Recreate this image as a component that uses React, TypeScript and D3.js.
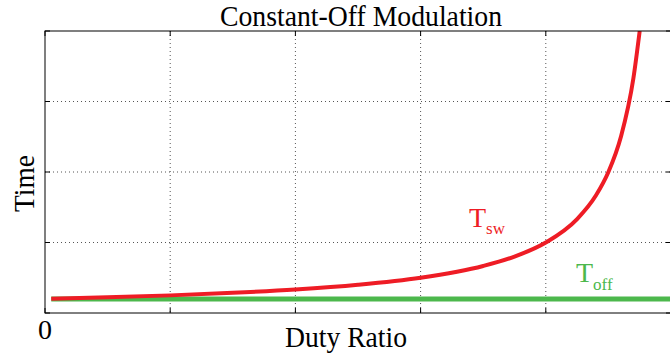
import React from "react";
import * as d3 from "d3";

// Duty ratio samples and the switching period
const dutyRatio = [0.01, 0.1, 0.2, 0.3, 0.4, 0.5, 0.6, 0.7, 0.75, 0.8, 0.85, 0.88, 0.9, 0.92, 0.94, 0.95];
const tSwitch = [0.202, 0.222, 0.25, 0.286, 0.333, 0.4, 0.5, 0.667, 0.8, 1.0, 1.333, 1.667, 2.0, 2.5, 3.333, 4.0];
// Constant off-time
const tOffD = [0.01, 1.0];
const tOff = [0.2, 0.2];

const xTicks = [0, 0.2, 0.4, 0.6, 0.8, 1];
const yTicks = [0, 1, 2, 3, 4];

const W = 670;
const H = 354;
const left = 45;
const right = 671;
const top = 31;
const bottom = 313;

export default function App() {
  const x = d3.scaleLinear().domain([0, 1]).range([left, right]);
  const y = d3.scaleLinear().domain([0, 4]).range([bottom, top]);

  const line = d3
    .line<[number, number]>()
    .x((d) => x(d[0]))
    .y((d) => y(d[1]))
    .curve(d3.curveMonotoneX);

  const swPts = dutyRatio.map((d, i) => [d, tSwitch[i]] as [number, number]);
  const offPts = tOffD.map((d, i) => [d, tOff[i]] as [number, number]);

  const font = "'Liberation Serif', 'Times New Roman', serif";

  return (
    <svg
      width={W}
      height={H}
      style={{ position: "absolute", left: 0, top: 0, background: "#fff" }}
      fontFamily={font}
    >
      <defs>
        <clipPath id="plot">
          <rect x={left} y={top} width={right - left} height={bottom - top} />
        </clipPath>
      </defs>

      {/* dotted grid */}
      {xTicks.slice(1, -1).map((t) => (
        <line
          key={"gx" + t}
          x1={x(t)}
          x2={x(t)}
          y1={top}
          y2={bottom}
          stroke="#555"
          strokeWidth={1}
          strokeDasharray="1,3"
        />
      ))}
      {yTicks.slice(1, -1).map((t) => (
        <line
          key={"gy" + t}
          x1={left}
          x2={right}
          y1={y(t)}
          y2={y(t)}
          stroke="#555"
          strokeWidth={1}
          strokeDasharray="1,3"
        />
      ))}

      {/* tick marks on the inside of the box */}
      {xTicks.map((t) => (
        <g key={"tx" + t}>
          <line x1={x(t)} x2={x(t)} y1={bottom} y2={bottom - 5} stroke="#000" />
          <line x1={x(t)} x2={x(t)} y1={top} y2={top + 5} stroke="#000" />
        </g>
      ))}
      {yTicks.map((t) => (
        <g key={"ty" + t}>
          <line x1={left} x2={left + 5} y1={y(t)} y2={y(t)} stroke="#000" />
          <line x1={right} x2={right - 5} y1={y(t)} y2={y(t)} stroke="#000" />
        </g>
      ))}

      {/* curves */}
      <g clipPath="url(#plot)">
        <path d={line(offPts) || ""} fill="none" stroke="#4cb84c" strokeWidth={5} />
        <path d={line(swPts) || ""} fill="none" stroke="#ee1c25" strokeWidth={4} />
      </g>

      {/* axes box */}
      <rect
        x={left}
        y={top}
        width={right - left}
        height={bottom - top}
        fill="none"
        stroke="#000"
        strokeWidth={1}
      />

      {/* labels */}
      <text
        x={220}
        y={26}
        fontSize={30}
        textLength={282}
        lengthAdjust="spacingAndGlyphs"
      >
        Constant-Off Modulation
      </text>
      <text x={45} y={339} textAnchor="middle" fontSize={28}>
        0
      </text>
      <text
        x={285}
        y={347}
        fontSize={30}
        textLength={122}
        lengthAdjust="spacingAndGlyphs"
      >
        Duty Ratio
      </text>
      <text
        transform="translate(34, 212) rotate(-90)"
        fontSize={30}
        textLength={57}
        lengthAdjust="spacingAndGlyphs"
      >
        Time
      </text>

      <text x={469} y={227} fontSize={28} fill="#ee1c25">
        T
        <tspan fontSize={17} dy={7}>sw</tspan>
      </text>
      <text x={576} y={282} fontSize={28} fill="#4cb84c">
        T
        <tspan fontSize={17} dy={8}>off</tspan>
      </text>
    </svg>
  );
}
